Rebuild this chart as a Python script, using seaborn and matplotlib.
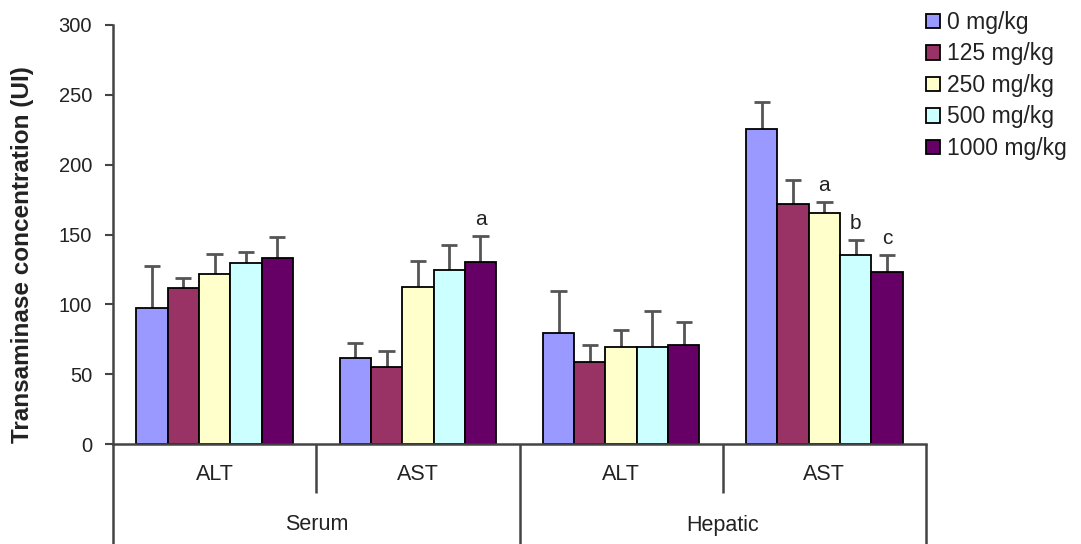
import numpy as np
import pandas as pd
import matplotlib
matplotlib.use('Agg')
import matplotlib.pyplot as plt
import seaborn as sns

# data
groups = ['Serum ALT', 'Serum AST', 'Hepatic ALT', 'Hepatic AST']
group_ticks = ['ALT', 'AST', 'ALT', 'AST']
tissues = ['Serum', 'Hepatic']
doses = ['0 mg/kg', '125 mg/kg', '250 mg/kg', '500 mg/kg', '1000 mg/kg']
colors = ['#9999FF', '#993366', '#FFFFCC', '#CCFFFF', '#660066']

mean_0 = [97.6, 61.6, 79.2, 225.5]
mean_125 = [112.0, 54.9, 59.0, 171.8]
mean_250 = [121.5, 112.2, 69.2, 165.2]
mean_500 = [129.5, 124.6, 69.2, 135.6]
mean_1000 = [133.4, 130.0, 70.9, 123.4]

sd_0 = [29.9, 10.7, 30.1, 19.1]
sd_125 = [6.7, 11.4, 12.1, 17.5]
sd_250 = [14.2, 19.1, 12.7, 7.8]
sd_500 = [8.2, 18.1, 25.8, 10.4]
sd_1000 = [14.6, 19.0, 16.2, 11.9]

sig_0 = ['', '', '', '']
sig_125 = ['', '', '', '']
sig_250 = ['', '', '', 'a']
sig_500 = ['', '', '', 'b']
sig_1000 = ['', 'a', '', 'c']

means = [mean_0, mean_125, mean_250, mean_500, mean_1000]
sds = [sd_0, sd_125, sd_250, sd_500, sd_1000]
sigs = [sig_0, sig_125, sig_250, sig_500, sig_1000]

rows = []
for d, m in zip(doses, means):
    for g, v in zip(groups, m):
        rows.append({'group': g, 'dose': d, 'value': v})
df = pd.DataFrame(rows)

sns.set_style('white')
plt.rcParams['font.family'] = ['Liberation Sans', 'DejaVu Sans']
txt_col = '#222222'
line_col = '#444444'
err_col = '#555555'

fig = plt.figure(figsize=(10.81, 5.44), dpi=100)
ax = fig.add_axes([113/1081, 100/544, 813/1081, 419/544])

sns.barplot(data=df, x='group', y='value', hue='dose', order=groups, hue_order=doses,
            palette=colors, saturation=1, width=0.77, gap=0, edgecolor='black',
            linewidth=1.3, errorbar=None, ax=ax, zorder=2)

# upward-only error bars + letters
for cont, sd, sig in zip(ax.containers, sds, sigs):
    for bar, e, s in zip(cont, sd, sig):
        w = bar.get_width()
        x = bar.get_x() + w / 2
        h = bar.get_height()
        ax.vlines(x, h, h + e, color=err_col, lw=2, zorder=1)
        ax.hlines(h + e, x - w * 0.26, x + w * 0.26, color=err_col, lw=2, zorder=1)
        if s:
            ax.annotate(s, (x, h + e), xytext=(0, 5), textcoords='offset points',
                        ha='center', va='bottom', fontsize=15, color=txt_col)

ax.set_ylim(0, 300)
ax.set_xlim(-0.5, len(groups) - 0.5)
ax.set_yticks(np.arange(0, 301, 50))
ax.set_xticks([])
ax.set_xlabel('')
ax.set_ylabel('Transaminase concentration (UI)', fontsize=17.5, fontweight='bold',
              color=txt_col)
ax.yaxis.set_label_coords(-0.097, 0.452)
ax.tick_params(axis='y', direction='out', length=6, width=1.5, color=line_col,
               labelsize=14.5, labelcolor=txt_col, left=True, pad=9)

for side in ['top', 'right']:
    ax.spines[side].set_visible(False)
for side in ['left', 'bottom']:
    ax.spines[side].set_color(line_col)
    ax.spines[side].set_linewidth(1.8)

# two-level category axis
tr = ax.get_xaxis_transform()
low = -100 / 419
mid = -49 / 419
for i, lab in enumerate(group_ticks):
    ax.text(i, -30 / 419, lab, transform=tr, ha='center', va='center',
            fontsize=15.5, color=txt_col)
for k, t in enumerate(tissues):
    ax.text(2 * k + 0.5, -81 / 419, t, transform=tr, ha='center', va='center',
            fontsize=15.5, color=txt_col)
for xb in np.arange(-0.5, len(groups), 1.0):
    bottom = low if (xb + 0.5) % 2 == 0 else mid
    ax.plot([xb, xb], [0, bottom], transform=tr, color=line_col, lw=1.8,
            clip_on=False, solid_capstyle='butt')

leg = ax.legend(loc='upper left', bbox_to_anchor=(926/1081, 1 - 11/544),
                bbox_transform=fig.transFigure, frameon=False, fontsize=16.5,
                handlelength=0.6, handleheight=0.6, handletextpad=0.3,
                labelspacing=0.37, borderpad=0.0, borderaxespad=0)
for t in leg.get_texts():
    t.set_color(txt_col)
for p in leg.get_patches():
    p.set_edgecolor('black')
    p.set_linewidth(1.3)

fig.savefig('out.png', dpi=100)
